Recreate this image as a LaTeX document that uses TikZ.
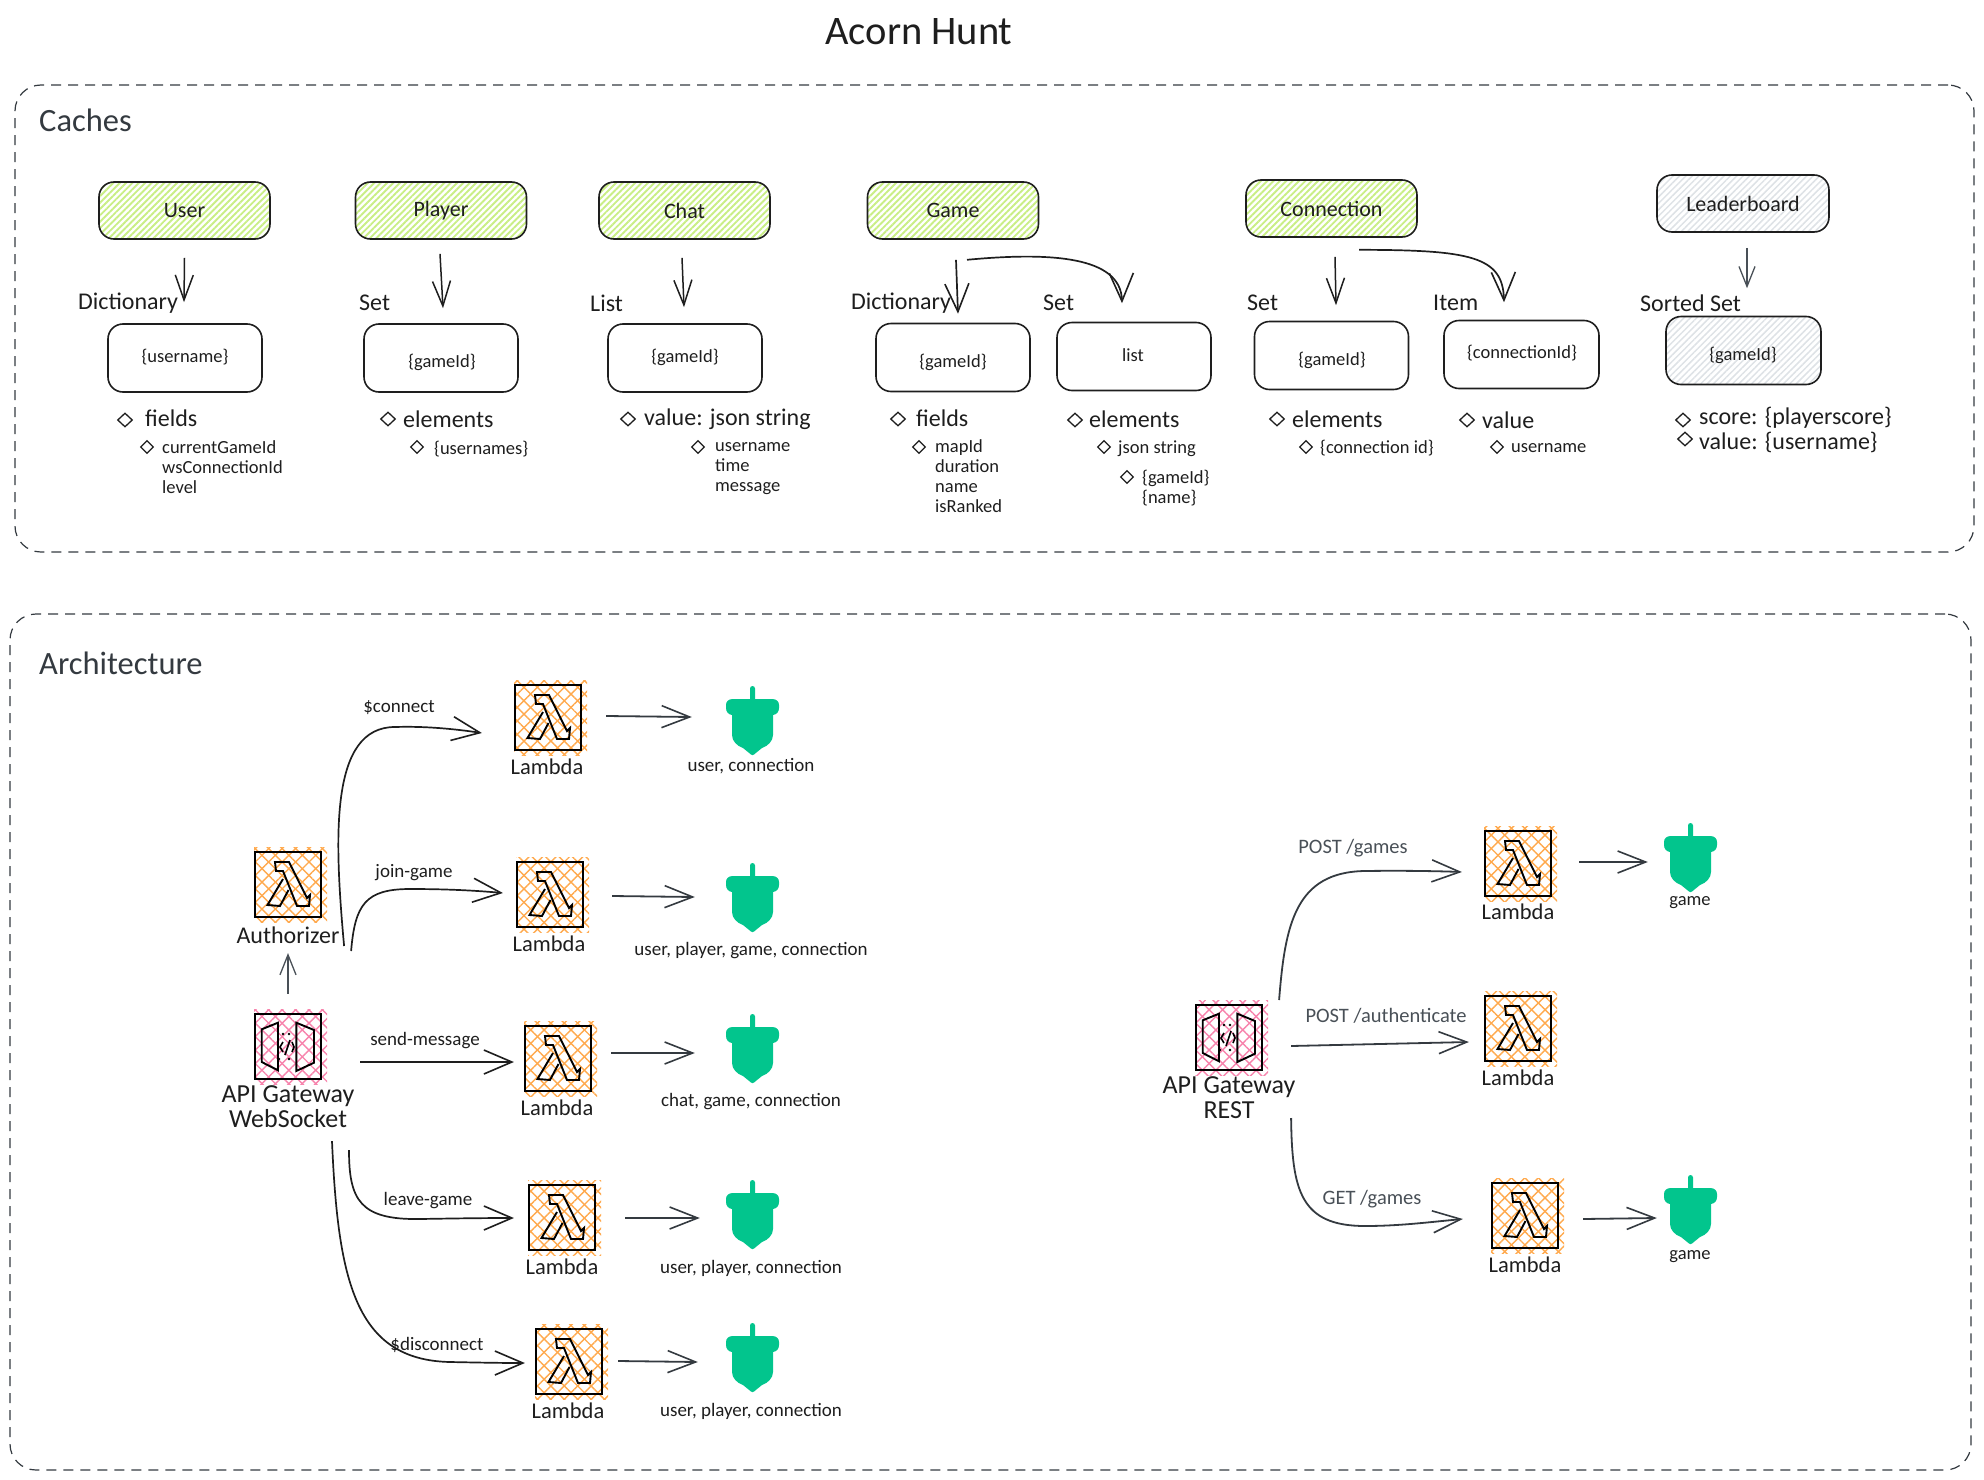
\documentclass[tikz,border=0pt]{standalone}
\usepackage{fontspec}
\setmainfont{Carlito}
\usetikzlibrary{arrows.meta,patterns.meta,shapes.geometric}
\definecolor{ink}{HTML}{1E1E1E}
\definecolor{slate}{HTML}{343A40}
\definecolor{steel}{HTML}{495057}
\definecolor{lime}{HTML}{C9EE85}
\definecolor{mist}{HTML}{DEE2E6}
\definecolor{orng}{HTML}{FFA94D}
\definecolor{pnk}{HTML}{F783AC}
\definecolor{acorn}{HTML}{02C58D}
\tikzset{
  fontxl/.style={font=\fontsize{40.5}{44}\selectfont},
  fonth/.style={font=\fontsize{32.5}{36}\selectfont},
  fontb/.style={font=\fontsize{22}{26}\selectfont},
  fontl/.style={font=\fontsize{24}{28}\selectfont},
  fontn/.style={font=\fontsize{22.5}{26}\selectfont},
  fontg/.style={font=\fontsize{26}{25}\selectfont},
  fonts/.style={font=\fontsize{18.5}{20}\selectfont},
  fonte/.style={font=\fontsize{19}{20}\selectfont},
  fontp/.style={font=\fontsize{20.5}{22}\selectfont},
  txt/.style={inner sep=0pt,text=ink,align=center},
  txtw/.style={inner sep=0pt,text=ink,align=left,anchor=west},
  framebox/.style={draw=slate,line width=1.2pt,dash pattern=on 10pt off 7pt,rounded corners=26pt,inner sep=0pt},
  cachebox/.style={draw=ink,line width=1.6pt,rounded corners=15pt,minimum width=171pt,minimum height=57pt,inner sep=0pt,text=ink,fontb},
  limebox/.style={cachebox,pattern={Lines[angle=45,distance=4.5pt,line width=1.9pt]},pattern color=lime},
  greybox/.style={cachebox,pattern={Lines[angle=45,distance=4.5pt,line width=1.5pt]},pattern color=mist},
  keybox/.style={draw=ink,line width=1.6pt,rounded corners=15pt,minimum width=154pt,minimum height=68pt,inner sep=0pt},
  bullet/.style={diamond,draw=ink,line width=1.3pt,minimum width=15pt,minimum height=14pt,inner sep=0pt},
  subbullet/.style={bullet,minimum width=13pt,minimum height=13pt},
  iconbox/.style={draw=black,line width=2.2pt,minimum width=66pt,minimum height=65pt,inner sep=0pt},
  glyph/.style={draw=black,line width=1.9pt,line join=miter},
  conn/.style={draw=ink,line width=1.7pt,-{Straight Barb[length=28pt,width=24pt,line width=1.6pt]}},
  connsm/.style={draw=ink,line width=1.5pt,-{Straight Barb[length=25pt,width=18pt,line width=1.5pt]}},
  conng/.style={draw=slate,line width=1.8pt,-{Straight Barb[length=28pt,width=22pt,line width=1.6pt]}},
  connt/.style={draw=steel,line width=1.3pt,-{Straight Barb[length=20pt,width=16pt,line width=1.3pt]}}
}
\newcommand\hatchrect[1]{%
  \path[pattern={Lines[angle=45,distance=9.5pt,line width=1.4pt]},pattern color=#1] (-1,-5) rectangle (72,70);
  \path[pattern={Lines[angle=-45,distance=9.5pt,line width=1.4pt]},pattern color=#1] (-1,-5) rectangle (72,70);}
\newcommand\lamicon[3]{%
  \begin{scope}[shift={(#2,#3)}]
    \hatchrect{orng}
    \node[iconbox] (#1) at (33,32.5) {};
    \draw[glyph] (20,10) -- (34,10) -- (52,46) -- (55,43) -- (54,54) -- (42,54) -- (28,19) -- (21,19) -- cycle;
    \draw[glyph] (28,27) -- (12.5,53) -- (25,54) -- (33.5,38);
  \end{scope}}
\newcommand\apiicon[3]{%
  \begin{scope}[shift={(#2,#3)}]
    \hatchrect{pnk}
    \node[iconbox] (#1) at (33,32.5) {};
    \draw[glyph] (23,8.7) -- (23,56.3) -- (6.7,48) -- (6.7,15.3) -- cycle;
    \draw[glyph] (41.3,8.7) -- (59,16) -- (59,48.7) -- (41.3,57) -- cycle;
    \draw[black,line width=1.6pt] (28,28) -- (25,33) -- (28,38) (35,26) -- (30,41) (37,28) -- (39,33) -- (37,38);
    \fill[black] (34,20) circle (1.3) (28,20) circle (1.3) (24,45) circle (1.3) (34,45) circle (1.3);
  \end{scope}}
\newcommand\acornicon[3]{%
  \begin{scope}[shift={(#2,#3)}]
    \node[minimum width=53pt,minimum height=69pt,inner sep=0pt] (#1) at (26.5,34.5) {};
    \fill[acorn] (24,2.5) arc[start angle=180,end angle=360,radius=2.5] -- (29,13) -- (46,13)
      .. controls (50.5,13) and (53,15.5) .. (53,19) -- (53,22)
      .. controls (53,26) and (50.5,28.5) .. (47,29) -- (47,49)
      .. controls (47,55) and (42,60) .. (36,62) -- (28,68.5) .. controls (27,69.4) and (26,69.4) .. (25,68.5)
      -- (17,62) .. controls (11,60) and (6,55) .. (6,49) -- (6,29)
      .. controls (2.5,28.5) and (0,26) .. (0,22) -- (0,19) .. controls (0,15.5) and (2.5,13) .. (7,13) -- (24,13) -- cycle;
  \end{scope}}
\begin{document}
\begin{tikzpicture}[x=1pt,y=-1pt]
\useasboundingbox (0,0) rectangle (1984,1480);
% title and frames
\node[txt,fontxl] (title) at (919,32) {Acorn Hunt};
\node[framebox,minimum width=1959pt,minimum height=467pt] (cachesframe) at (994.5,318.5) {};
\node[framebox,minimum width=1961pt,minimum height=856pt] (archframe) at (990.5,1042) {};
\node[txtw,fonth,text=slate] (cacheshead) at (39,120) {Caches};
\node[txtw,fonth,text=slate] (archhead) at (39,663) {Architecture};
% caches: headers
\node[limebox] (user) at (184.5,210.5) {User};
\node[limebox] (player) at (441,210.5) {Player};
\node[limebox] (chat) at (684.5,210.5) {Chat};
\node[limebox] (game) at (953,210.5) {Game};
\node[limebox] (connection) at (1331.5,208.5) {Connection};
\node[greybox,minimum width=172pt] (leader) at (1743,203.5) {Leaderboard};
% caches: key boxes
\node[keybox] (ukey) at (185,358) {};
\node[keybox] (pkey) at (441,358) {};
\node[keybox] (ckey) at (685,358) {};
\node[keybox] (gkey) at (953,357.5) {};
\node[keybox] (lkey) at (1134,356.5) {};
\node[keybox] (nkey) at (1331.5,355.5) {};
\node[keybox,minimum width=155pt] (ikey) at (1521.5,354.5) {};
\node[keybox,minimum width=155pt,pattern={Lines[angle=45,distance=4.5pt,line width=1.5pt]},pattern color=mist] (skey) at (1743.5,350.5) {};
\node[txt,fonts] (k1) at (185,357) {\{username\}};
\node[txt,fonts] (k2) at (442,362) {\{gameId\}};
\node[txt,fonts] (k3) at (685,357) {\{gameId\}};
\node[txt,fonts] (k4) at (953,362) {\{gameId\}};
\node[txt,fonts] (k5) at (1133,355) {list};
\node[txt,fonts] (k6) at (1332,360) {\{gameId\}};
\node[txt,fonts] (k7) at (1522,353) {\{connectionId\}};
\node[txt,fonts] (k8) at (1743,355) {\{gameId\}};
% caches: type labels
\node[txtw,fontl] (t1) at (78,303) {Dictionary};
\node[txtw,fontl] (t2) at (359,303) {Set};
\node[txtw,fontl] (t3) at (590,303) {List};
\node[txtw,fontl] (t4) at (851,303) {Dictionary};
\node[txtw,fontl] (t5) at (1043,303) {Set};
\node[txtw,fontl] (t6) at (1247,303) {Set};
\node[txtw,fontl] (t7) at (1433,303) {Item};
\node[txtw,fontl] (t8) at (1640,303) {Sorted Set};
% caches: connectors
\draw[connsm] ([shift={(0,18)}]user.south) -- ([shift={(-1,-21)}]ukey.north);
\draw[connsm] ([shift={(-1,14)}]player.south) -- ([shift={(2,-15)}]pkey.north);
\draw[connsm] ([shift={(-2.5,18)}]chat.south) -- ([shift={(-1,-16)}]ckey.north);
\draw[conn] ([shift={(3,20)}]game.south) -- ([shift={(5,-9)}]gkey.north);
\draw[conn] ([shift={(14,20)}]game.south) .. controls (1050,252) and (1121,256) .. ([shift={(-12,-18.5)}]lkey.north);
\draw[connsm] ([shift={(3.5,19)}]connection.south) -- ([shift={(4.5,-15.5)}]nkey.north);
\draw[conn] ([shift={(27.5,12)}]connection.south) .. controls (1470,250) and (1503,256) .. ([shift={(-17.5,-17.5)}]ikey.north);
\draw[connt] ([shift={(4,15)}]leader.south) -- ([shift={(3.5,-27.5)}]skey.north);
% caches: lists
\node[bullet] (b1) at (125,420) {};
\node[txtw,fontl] (f1) at (145,418) {fields};
\node[subbullet] (b2) at (147,447) {};
\node[txtw,fonts] (f2) at (162,467) {currentGameId\\wsConnectionId\\level};
\node[bullet] (b3) at (388,419) {};
\node[txtw,fontl] (f3) at (403,419) {elements};
\node[subbullet] (b4) at (417,447) {};
\node[txtw,fonts] (f4) at (434,449) {\{usernames\}};
\node[bullet] (b5) at (628,419) {};
\node[txtw,fontl] (f5) at (644,419) {value: json string};
\node[subbullet] (b6) at (698,447) {};
\node[txtw,fonts] (f6) at (715,468.5) {username\\time\\message};
\node[bullet] (b7) at (898,419) {};
\node[txtw,fontl] (f7) at (916,418) {fields};
\node[subbullet] (b8) at (919,447) {};
\node[txtw,fonts] (f8) at (935,476) {mapId\\duration\\name\\isRanked};
\node[bullet] (b9) at (1075,420) {};
\node[txtw,fontl] (f9) at (1089,419) {elements};
\node[subbullet] (b10) at (1104,447) {};
\node[txtw,fonts] (f10) at (1118,449) {json string};
\node[subbullet] (b11) at (1127,477) {};
\node[txtw,fonts] (f11) at (1142,488) {\{gameId\}\\\{name\}};
\node[bullet] (b12) at (1277,419) {};
\node[txtw,fontl] (f12) at (1292,419) {elements};
\node[subbullet] (b13) at (1306,447) {};
\node[txtw,fonts] (f13) at (1320,448) {\{connection id\}};
\node[bullet] (b14) at (1467,420) {};
\node[txtw,fontl] (f14) at (1482,420) {value};
\node[subbullet] (b15) at (1497,447) {};
\node[txtw,fonts] (f15) at (1511,448) {username};
\node[bullet] (b16) at (1683,420) {};
\node[txtw,fontl] (f16) at (1699,418) {score: \{playerscore\}};
\node[bullet] (b17) at (1685,439) {};
\node[txtw,fontl] (f17) at (1699,442) {value: \{username\}};
% architecture: websocket side
\lamicon{l1}{515}{685}
\lamicon{l2}{517}{862}
\lamicon{au}{255}{852}
\apiicon{api}{255}{1014}
\lamicon{l3}{525}{1026}
\lamicon{l4}{529}{1185}
\lamicon{l5}{536}{1329}
\acornicon{ac1}{726}{686}
\acornicon{ac2}{726}{863}
\acornicon{ac3}{726}{1014}
\acornicon{ac4}{726}{1180}
\acornicon{ac5}{726}{1323}
\node[txt,fontn] (n1) at (547,767) {Lambda};
\node[txt,fontn] (n2) at (549,944) {Lambda};
\node[txt,fontn] (n3) at (557,1108) {Lambda};
\node[txt,fontn] (n4) at (562,1267) {Lambda};
\node[txt,fontn] (n5) at (568,1411) {Lambda};
\node[txt,fontl] (n6) at (288,935) {Authorizer};
\node[txt,fontg] (n7) at (288,1106.5) {API Gateway\\WebSocket};
\node[txt,fonte] (c1) at (751,766) {user, connection};
\node[txt,fonte] (c2) at (751,951) {user, player, game, connection};
\node[txt,fonte] (c3) at (751,1102) {chat, game, connection};
\node[txt,fonte] (c4) at (751,1268) {user, player, connection};
\node[txt,fonte] (c5) at (751,1411) {user, player, connection};
\node[txt,fonte] (e1) at (399,708) {\$connect};
\node[txt,fonte] (e2) at (414,873) {join-game};
\node[txt,fonte] (e3) at (425,1041) {send-message};
\node[txt,fonte] (e4) at (428,1201) {leave-game};
\node[txt,fonte] (e5) at (437,1345) {\$disconnect};
\draw[conn] ([shift={(22,61.5)}]au.east) .. controls (334,835) and (330,727) .. (395,727) .. controls (425,726) and (455,729) .. ([shift={(-32,15.5)}]l1.west);
\draw[conn] ([shift={(29,66.5)}]au.east) .. controls (355,905) and (365,889) .. (410,889) .. controls (440,889) and (470,890) .. ([shift={(-13,-1.5)}]l2.west);
\draw[conn] ([shift={(38,15.5)}]api.east) -- ([shift={(-10,3.5)}]l3.west);
\draw[conn] ([shift={(61,70)}]api.south) .. controls (349,1200) and (360,1220) .. (420,1219) .. controls (450,1218.5) and (480,1218) .. ([shift={(-14,0.5)}]l4.west);
\draw[conn] ([shift={(44,61)}]api.south) .. controls (338,1280) and (355,1360) .. (450,1362) .. controls (475,1362.5) and (500,1363) .. ([shift={(-10,1.5)}]l5.west);
\draw[connt] ([shift={(0,-19)}]api.north) -- ([shift={(0,35)}]au.south);
\draw[conng] ([shift={(24,-1.5)}]l1.east) -- ([shift={(-34,-3.5)}]ac1.west);
\draw[conng] ([shift={(28,1.5)}]l2.east) -- ([shift={(-31,-0.5)}]ac2.west);
\draw[conng] ([shift={(19,-5.5)}]l3.east) -- ([shift={(-31,4.5)}]ac3.west);
\draw[conng] ([shift={(29,0.5)}]l4.east) -- ([shift={(-26,3.5)}]ac4.west);
\draw[conng] ([shift={(15,-0.5)}]l5.east) -- ([shift={(-28,4.5)}]ac5.west);
% architecture: REST side
\apiicon{apir}{1196}{1005}
\lamicon{lp}{1485}{831}
\lamicon{la}{1485}{996}
\lamicon{lg}{1492}{1183}
\acornicon{ag1}{1664}{823}
\acornicon{ag2}{1664}{1175}
\node[txt,fontg] (n8) at (1229,1098) {API Gateway\\REST};
\node[txt,fontn] (n9) at (1518,912) {Lambda};
\node[txt,fontn] (n10) at (1518,1078) {Lambda};
\node[txt,fontn] (n11) at (1525,1265) {Lambda};
\node[txt,fontp,text=steel] (e6) at (1353,848) {POST /games};
\node[txt,fontp,text=steel] (e7) at (1386,1016) {POST /authenticate};
\node[txt,fontp,text=steel] (e8) at (1372,1199) {GET /games};
\node[txt,fonts] (c6) at (1690,903) {game};
\node[txt,fonts] (c7) at (1690,1257) {game};
\draw[conng] ([shift={(16,-37.5)}]apir.east) .. controls (1285,925) and (1295,872) .. (1365,871) .. controls (1400,870.5) and (1435,871) .. ([shift={(-22,8.5)}]lp.west);
\draw[conng] ([shift={(28,8.5)}]apir.east) -- ([shift={(-15,13.5)}]la.west);
\draw[conng] ([shift={(28,80.5)}]apir.east) .. controls (1292,1190) and (1300,1226) .. (1365,1226) .. controls (1400,1226) and (1430,1222) .. ([shift={(-28,3.5)}]lg.west);
\draw[conng] ([shift={(27,-1.5)}]lp.east) -- ([shift={(-16,4.5)}]ag1.west);
\draw[conng] ([shift={(24,3.5)}]lg.east) -- ([shift={(-7,8.5)}]ag2.west);
\end{tikzpicture}
\end{document}
